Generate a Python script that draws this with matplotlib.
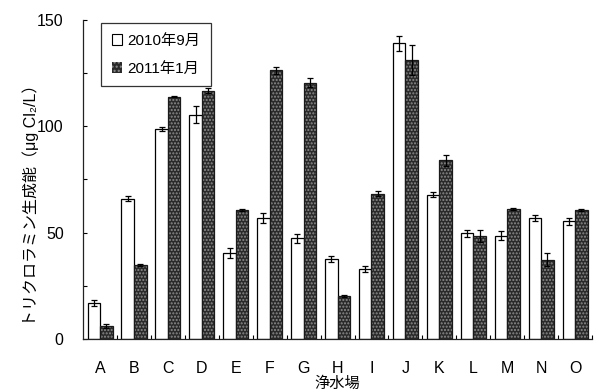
import numpy as np
import matplotlib
matplotlib.use("Agg")
import matplotlib.pyplot as plt
from matplotlib.patches import Patch

plt.rcParams['font.family'] = ['Liberation Sans', 'Noto Sans CJK JP', 'DejaVu Sans']
plt.rcParams['hatch.linewidth'] = 1.0

# trichloramine formation potential per water treatment plant
plants = ['A', 'B', 'C', 'D', 'E', 'F', 'G', 'H', 'I', 'J', 'K', 'L', 'M', 'N', 'O']
sep2010 = [16.8, 66.0, 98.8, 105.5, 40.5, 56.9, 47.3, 37.6, 32.9, 139.0, 67.9, 49.6, 48.6, 56.9, 55.3]
sep2010_err = [1.5, 1.0, 1.0, 4.0, 2.5, 2.5, 2.0, 1.2, 1.5, 3.5, 1.0, 1.5, 2.0, 1.5, 1.5]
jan2011 = [6.1, 34.9, 114.0, 116.8, 60.8, 126.3, 120.5, 20.3, 68.4, 131.3, 84.0, 48.4, 61.2, 37.3, 60.8]
jan2011_err = [1.0, 0.4, 0.4, 1.0, 0.4, 1.5, 2.0, 0.5, 1.0, 7.0, 2.5, 3.0, 0.5, 3.0, 0.5]

x = np.arange(len(plants))
w = 0.37

fig = plt.figure(figsize=(5.98, 3.91), dpi=100)
ax = fig.add_axes([0.139, 0.133, 0.851, 0.816])

err_kw = dict(ecolor='black', elinewidth=0.9, capsize=2.5, capthick=0.9)

ax.bar(x - w / 2, sep2010, w, color='white', edgecolor='black', linewidth=0.9,
       yerr=sep2010_err, error_kw=err_kw, zorder=2)
# stippled dark fill, then outline on top
ax.bar(x + w / 2, jan2011, w, color='#2a2a2a', edgecolor='#8c8c8c', hatch='.....',
       linewidth=0, zorder=2)
ax.bar(x + w / 2, jan2011, w, fill=False, edgecolor='#1a1a1a', linewidth=0.9,
       yerr=jan2011_err, error_kw=err_kw, zorder=3)

ax.set_xlim(-0.5, len(plants) - 0.5)
ax.set_ylim(0, 150)
ax.set_yticks([0, 50, 100, 150])
ax.set_yticks([25, 75, 125], minor=True)
ax.set_xticks(x)
ax.set_xticklabels(plants)
ax.set_xticks(np.arange(0.5, len(plants), 1.0), minor=True)

for s in ['top', 'right']:
    ax.spines[s].set_visible(False)
for s in ['left', 'bottom']:
    ax.spines[s].set_linewidth(0.9)
    ax.spines[s].set_color('#222222')

ax.tick_params(axis='y', which='both', direction='in', length=3, width=0.8,
               labelsize=11.5, pad=14)
ax.tick_params(axis='x', which='major', length=0, labelsize=11.5, pad=16)
ax.tick_params(axis='x', which='minor', direction='in', length=3, width=0.8)

ax.set_ylabel('トリクロラミン生成能（μg Cl₂/L）', fontsize=11.5)
ax.yaxis.set_label_coords(-0.086, 0.43)
ax.set_xlabel('浄水場', fontsize=11, labelpad=0)

handles = [Patch(facecolor='white', edgecolor='black', linewidth=0.8),
           Patch(facecolor='#2a2a2a', edgecolor='#8c8c8c', hatch='....', linewidth=0)]
leg = ax.legend(handles, ['2010年9月', '2011年1月'], loc='upper left',
                bbox_to_anchor=(0.035, 0.99), fontsize=11, frameon=True, fancybox=False,
                handlelength=0.7, handleheight=0.7, handletextpad=0.3,
                borderpad=0.7, labelspacing=0.9, borderaxespad=0.0)
leg.get_frame().set_edgecolor('black')
leg.get_frame().set_linewidth(0.9)

fig.savefig('out.png', dpi=100)
